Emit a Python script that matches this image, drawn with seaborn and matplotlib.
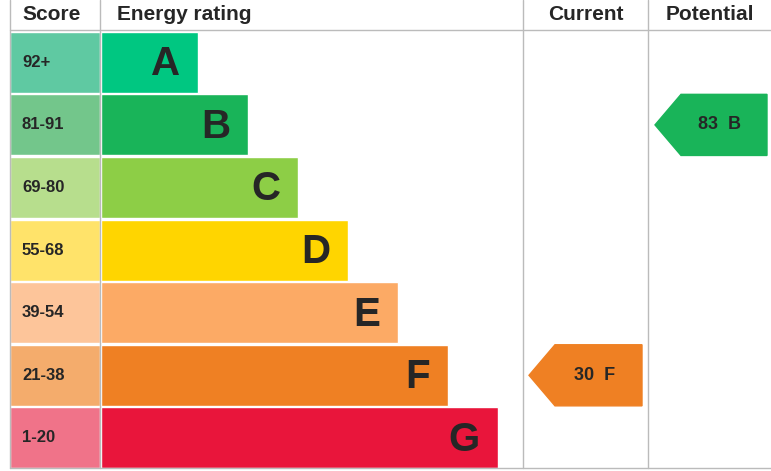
import matplotlib
matplotlib.use("Agg")
import matplotlib.pyplot as plt
import seaborn as sns
from matplotlib.patches import Polygon

sns.set_style("white")
plt.rcParams["font.family"] = "Liberation Sans"

bands = ["A", "B", "C", "D", "E", "F", "G"]
scores = ["92+", "81-91", "69-80", "55-68", "39-54", "21-38", "1-20"]
bar_colors = ["#00c781", "#19b459", "#8dce46", "#ffd500", "#fcaa65", "#ef8023", "#e9153b"]
score_colors = ["#5fc9a2", "#73c68b", "#b7de8d", "#ffe36a", "#fdc59a", "#f4ac6c", "#f07389"]
current_score, current_band = 30, "F"
potential_score, potential_band = 83, "B"

fig = plt.figure(figsize=(7.71, 4.71), dpi=100)
ax = fig.add_axes([0, 0, 1, 1])
ax.set_xlim(0, 771)
ax.set_ylim(471, 0)
ax.axis("off")

top, row_h, gap = 31, 62.6, 1.5
x0 = 101
for i, b in enumerate(bands):
    y = top + i * row_h
    ax.barh(y + row_h / 2, 90, left=10, height=row_h - gap, color=score_colors[i])
    ax.barh(y + row_h / 2, 97 + 50 * i, left=x0, height=row_h - gap, color=bar_colors[i])
    ax.text(22, y + row_h / 2, scores[i], va="center", ha="left", fontsize=12, fontweight="bold")
    ax.text(x0 + 97 + 50 * i - 18, y + row_h / 2 + 2, b, va="center", ha="right",
            fontsize=29, fontweight="bold")

def arrow(x_left, x_right, band, label):
    i = bands.index(band)
    y = top + i * row_h
    yc = y + row_h / 2
    h = row_h - gap
    pts = [(x_left, yc), (x_left + 26, yc - h / 2), (x_right, yc - h / 2),
           (x_right, yc + h / 2), (x_left + 26, yc + h / 2)]
    ax.add_patch(Polygon(pts, closed=True, color=bar_colors[i]))
    ax.text((x_left + 26 + x_right) / 2 - 4, yc, label, va="center", ha="center",
            fontsize=13, fontweight="bold")

arrow(529, 642, current_band, f"{current_score}  {current_band}")
arrow(655, 767, potential_band, f"{potential_score}  {potential_band}")

# header and grid
hdr_y = 15
ax.text(22, hdr_y, "Score", va="center", ha="left", fontsize=15, fontweight="bold")
ax.text(117, hdr_y, "Energy rating", va="center", ha="left", fontsize=15, fontweight="bold")
ax.text(586, hdr_y, "Current", va="center", ha="center", fontsize=15, fontweight="bold")
ax.text(666, hdr_y, "Potential", va="center", ha="left", fontsize=15, fontweight="bold")
lc = "#bbbbbb"
ax.plot([10, 771], [30, 30], color=lc, lw=1)
ax.plot([10, 771], [468, 468], color=lc, lw=1)
for x in [10, 100, 523, 648]:
    ax.plot([x, x], [0, 468], color=lc, lw=1)

fig.savefig("out.png", dpi=100)
